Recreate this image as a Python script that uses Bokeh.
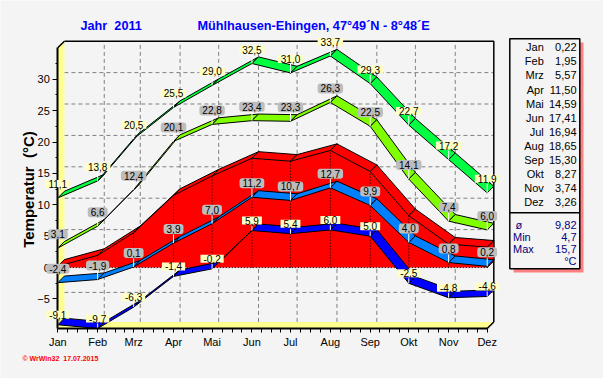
import numpy as np
from bokeh.plotting import figure
from bokeh.models import Range1d, FixedTicker, Label
from bokeh.core.properties import value
from bokeh.embed import file_html
from bokeh.resources import INLINE

# ---------------- data ----------------
year = 2011
station = "Mühlhausen-Ehingen, 47°49´N - 8°48´E"
months = ["Jan", "Feb", "Mrz", "Apr", "Mai", "Jun", "Jul", "Aug", "Sep", "Okt", "Nov", "Dez"]
days_in_month = [31, 28, 31, 30, 31, 30, 31, 31, 30, 31, 30, 31]
abs_max = [11.1, 13.8, 20.5, 25.5, 29.0, 32.5, 31.0, 33.7, 29.3, 22.7, 17.2, 11.9]
mean_max = [3.1, 6.6, 12.4, 20.1, 22.8, 23.4, 23.3, 26.3, 22.5, 14.1, 7.4, 6.0]
mean_temp = [0.22, 1.95, 5.57, 11.50, 14.59, 17.41, 16.94, 18.65, 15.30, 8.27, 3.74, 3.26]
mean_min = [-2.4, -1.9, 0.1, 3.9, 7.0, 11.2, 10.7, 12.7, 9.9, 4.0, 0.8, 0.2]
abs_min = [-9.1, -9.7, -6.3, -1.4, -0.2, 5.9, 5.4, 6.0, 5.0, -2.5, -4.8, -4.6]
stat_names = ["ø", "Min", "Max"]
stat_values = ["9,82", "4,7", "15,7"]
y_ticks = [-5, 0, 5, 10, 15, 20, 25, 30]
y_top = 35
footer = "©\u00a0WrWin32\u00a0\u00a017.07.2015"

# ---------------- geometry / style ----------------
W, H = 603, 378
JAN_PX = 57.3      # front plane: x pixel of Jan
ZERO_PX = 267.1    # front plane: y pixel of 0 °C
FRONT_W = 429.4    # px from Jan to Dez on the front plane
FRONT_H = 280.7    # px from axis bottom to axis top on the front plane
DEPTH = 6.6        # px of 3D depth (right and up)
BG = "#f4f4f4"
YEL = "#ffff90"
FONT = "Liberation Sans"

mx = np.concatenate([[0], np.cumsum(days_in_month)[:-1]]).astype(float)
last = mx[-1]
y_lo = min(abs_min)
px_day = FRONT_W / last
px_deg = FRONT_H / (y_top - y_lo)
DX = DEPTH / px_day
DY = DEPTH / px_deg


def X(px):  # pixel -> data x
    return (px - JAN_PX) / px_day


def Y(py):  # pixel -> data y
    return (ZERO_PX - py) / px_deg


def fmt(v, d=1):
    return f"{v:.{d}f}".replace(".", ",")


p = figure(width=W, height=H, output_backend="svg", toolbar_location=None,
           x_range=Range1d(X(0), X(W)), y_range=Range1d(Y(H), Y(0)),
           min_border_left=0, min_border_right=0, min_border_top=0, min_border_bottom=0,
           background_fill_color=BG, border_fill_color=BG, outline_line_color=None)
p.xgrid.visible = False
p.ygrid.visible = False

# axes on the front plane
minor_x = []
for i in range(len(mx) - 1):
    step = (mx[i + 1] - mx[i]) / 4
    minor_x += [mx[i] + k * step for k in (1, 2, 3)]
p.xaxis.ticker = FixedTicker(ticks=list(mx), minor_ticks=minor_x)
p.xaxis.major_label_overrides = {int(d): m for d, m in zip(mx, months)}
p.xaxis.bounds = (0, last)
p.xaxis.fixed_location = y_lo
p.yaxis.ticker = FixedTicker(ticks=y_ticks, minor_ticks=[t + 2.5 for t in [-10] + y_ticks])
p.yaxis.bounds = (y_lo, y_top)
p.yaxis.fixed_location = 0
for ax in (p.xaxis, p.yaxis):
    ax.axis_line_width = 2
    ax.axis_line_color = "black"
    ax.major_tick_in = 0
    ax.minor_tick_in = 0
    ax.major_tick_line_color = "black"
    ax.minor_tick_line_color = "black"
    ax.major_label_text_font = FONT
    ax.major_label_text_font_size = "11px"
    ax.major_label_text_color = "black"
    ax.major_label_standoff = 3
p.xaxis.major_tick_out = 4
p.xaxis.minor_tick_out = 4
p.yaxis.major_tick_out = 5
p.yaxis.minor_tick_out = 2

# back wall grid
p.segment(x0=DX, y0=[t + DY for t in y_ticks], x1=last + DX, y1=[t + DY for t in y_ticks],
          line_color="#808080", line_dash="4 3", line_width=1)
p.segment(x0=mx[1:-1] + DX, y0=y_lo + DY, x1=mx[1:-1] + DX, y1=y_top + DY,
          line_color="#808080", line_dash="4 3", line_width=1)
# back wall frame
p.line(x=[DX, last + DX, last + DX], y=[y_top + DY, y_top + DY, y_lo + DY],
       line_color="black", line_width=1.5)
# left wall and floor
p.patch(x=[0, 0, DX, DX], y=[y_lo, y_top, y_top + DY, y_lo + DY], fill_color=YEL, line_color=None)
p.patch(x=[0, last, last + DX, DX], y=[y_lo, y_lo, y_lo + DY, y_lo + DY], fill_color=YEL,
        line_color=None)
p.segment(x0=[0, last], y0=[y_top, y_lo], x1=[DX, last + DX], y1=[y_top + DY, y_lo + DY],
          line_color="black", line_width=1.5)


def ribbon(vals):
    xs, ys = [], []
    for i in range(len(vals) - 1):
        xs.append([mx[i], mx[i + 1], mx[i + 1] + DX, mx[i] + DX])
        ys.append([vals[i], vals[i + 1], vals[i + 1] + DY, vals[i] + DY])
    return xs, ys


# red 3D area of monthly mean temperature
p.patch(x=list(mx) + [last, 0], y=list(mean_temp) + [0, 0], fill_color="#ff0000", line_color=None)
p.patch(x=[last, last, last + DX, last + DX], y=[0, mean_temp[-1], mean_temp[-1] + DY, DY],
        fill_color="#ff0000", line_color="black", line_width=1)
rx, ry = ribbon(mean_temp)
p.patches(xs=rx, ys=ry, fill_color="#ff0000", line_color="black", line_width=1)
p.segment(x0=mx, y0=0, x1=mx, y1=mean_temp, line_color="black", line_dash="1 2", line_width=1)
p.segment(x0=[0], y0=[0], x1=[last], y1=[0], line_color="black", line_dash="1 2", line_width=1)

# ribbons: values, ribbon colour, label colour, corner radius, label offset, v-padding
series = [
    (abs_min, "#0000ff", "#ffffc4", 0, 10, 0),
    (mean_min, "#0080ff", "#bdbdbd", 3, 14, 1),
    (mean_max, "#80ff00", "#bdbdbd", 3, 14, 1),
    (abs_max, "#00ff40", "#ffffc4", 0, 14, 0),
]
for vals, col, _, _, _, _ in series:
    xs, ys = ribbon(vals)
    p.patches(xs=xs, ys=ys, fill_color=col, line_color="black", line_width=1)

# value labels with white pointer
for vals, col, lab_bg, rad, off, padv in series:
    p.ray(x=mx, y=vals, length=off - 5, angle=np.pi / 2, length_units="screen",
          line_color="white", line_width=1)
    for xv, v in zip(mx, vals):
        p.add_layout(Label(x=xv, y=v, text=fmt(v), y_offset=off, text_align="center",
                           text_baseline="middle", text_font=FONT, text_font_size="10px",
                           text_color="black", background_fill_color=lab_bg,
                           border_radius=rad, padding=(3, padv)))

# titles
p.text(x=[X(80), X(197)], y=[Y(25.5), Y(25.5)], text=[f"Jahr\u00a0\u00a0{year}", station],
       text_font=value(FONT), text_font_size="12.7px", text_font_style="bold",
       text_color="#0000ff", text_align="left", text_baseline="middle")

# legend table
p.quad(left=X(513), right=X(583), top=Y(42), bottom=Y(272), fill_color="#ff8080",
       line_color=None)
p.quad(left=X(509.3), right=X(579.3), top=Y(38.3), bottom=Y(268.3), fill_color=BG,
       line_color="black", line_width=1.5)
p.segment(x0=[X(509.3)], y0=[Y(212.3)], x1=[X(579.3)], y1=[Y(212.3)], line_color="black",
          line_width=1.5)
row_y = [Y(46.7 + i * 14.1) for i in range(len(months))]
p.text(x=X(543.3), y=row_y, text=months, text_font=value(FONT), text_font_size="11px",
       text_align="right", text_baseline="middle", text_color="black")
p.text(x=X(576), y=row_y, text=[fmt(v, 2) for v in mean_temp], text_font=value(FONT),
       text_font_size="11px", text_align="right", text_baseline="middle", text_color="black")
stat_y = [Y(224 + i * 12.2) for i in range(len(stat_names))]
p.text(x=[X(515), X(512.5), X(512.5)], y=stat_y, text=stat_names, text_font=value(FONT),
       text_font_size="11px", text_align="left", text_baseline="middle", text_color="#000080")
p.text(x=X(576), y=stat_y + [Y(260)], text=stat_values + ["°C"], text_font=value(FONT),
       text_font_size="11px", text_align="right", text_baseline="middle", text_color="#000080")

# y axis title and footer
p.add_layout(Label(x=X(28), y=Y(189), text="Temperatur\u00a0\u00a0(°C)", angle=np.pi / 2,
                   text_align="center", text_baseline="middle", text_font=FONT,
                   text_font_size="15px", text_font_style="bold", text_color="black"))
p.add_layout(Label(x=X(22), y=Y(358), text=footer, text_align="left", text_baseline="middle",
                   text_font=FONT, text_font_size="7px", text_font_style="bold",
                   text_color="#ff0000"))

open("out.html", "w").write(file_html(p, INLINE))
